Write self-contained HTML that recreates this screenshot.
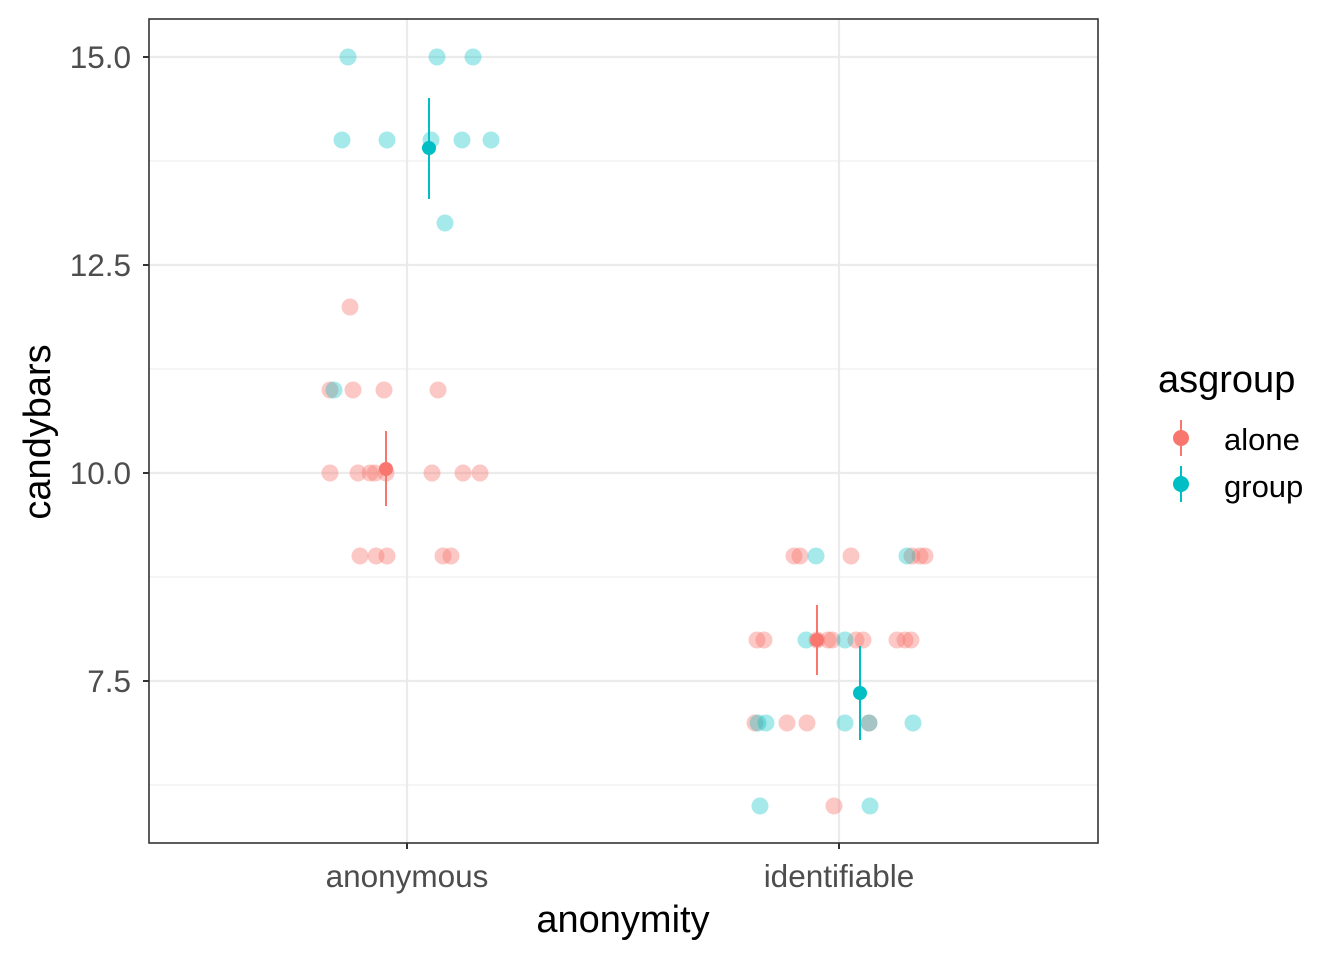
<!DOCTYPE html>
<html><head><meta charset="utf-8"><style>body{margin:0;background:#fff}</style></head><body>
<svg width="1344" height="960" xmlns="http://www.w3.org/2000/svg" font-family="Liberation Sans, sans-serif">
<rect width="1344" height="960" fill="#fff"/>
<g stroke="#ebebeb" stroke-width="1">
<line x1="149" x2="1098" y1="161" y2="161"/><line x1="149" x2="1098" y1="369" y2="369"/>
<line x1="149" x2="1098" y1="577" y2="577"/><line x1="149" x2="1098" y1="785" y2="785"/>
</g>
<g stroke="#ebebeb" stroke-width="2.2">
<line x1="149" x2="1098" y1="57" y2="57"/><line x1="149" x2="1098" y1="265" y2="265"/>
<line x1="149" x2="1098" y1="473" y2="473"/><line x1="149" x2="1098" y1="681" y2="681"/>
<line x1="407" x2="407" y1="19" y2="843"/><line x1="839" x2="839" y1="19" y2="843"/>
</g>
<g fill="#F8766D" fill-opacity="0.4">
<circle cx="350" cy="307" r="8.5"/>
<circle cx="330" cy="390" r="8.5"/><circle cx="353" cy="390" r="8.5"/><circle cx="384" cy="390" r="8.5"/><circle cx="438" cy="390" r="8.5"/>
<circle cx="330" cy="473" r="8.5"/><circle cx="358" cy="473" r="8.5"/><circle cx="370" cy="473" r="8.5"/><circle cx="375" cy="473" r="8.5"/><circle cx="386" cy="473" r="8.5"/><circle cx="432" cy="473" r="8.5"/><circle cx="463" cy="473" r="8.5"/><circle cx="480" cy="473" r="8.5"/>
<circle cx="360" cy="556" r="8.5"/><circle cx="376" cy="556" r="8.5"/><circle cx="387" cy="556" r="8.5"/><circle cx="443" cy="556" r="8.5"/><circle cx="451" cy="556" r="8.5"/>
<circle cx="794" cy="556" r="8.5"/><circle cx="800" cy="556" r="8.5"/><circle cx="851" cy="556" r="8.5"/><circle cx="912" cy="556" r="8.5"/><circle cx="920" cy="556" r="8.5"/><circle cx="925" cy="556" r="8.5"/>
<circle cx="757" cy="640" r="8.5"/><circle cx="764" cy="640" r="8.5"/><circle cx="817" cy="640" r="8.5"/><circle cx="828" cy="640" r="8.5"/><circle cx="832" cy="640" r="8.5"/><circle cx="856" cy="640" r="8.5"/><circle cx="863" cy="640" r="8.5"/><circle cx="897" cy="640" r="8.5"/><circle cx="905" cy="640" r="8.5"/><circle cx="911" cy="640" r="8.5"/>
<circle cx="755" cy="723" r="8.5"/><circle cx="787" cy="723" r="8.5"/><circle cx="807" cy="723" r="8.5"/><circle cx="869" cy="723" r="8.5"/>
<circle cx="834" cy="806" r="8.5"/>
</g>
<g fill="#00BFC4" fill-opacity="0.35">
<circle cx="348" cy="57" r="8.5"/><circle cx="437" cy="57" r="8.5"/><circle cx="473" cy="57" r="8.5"/>
<circle cx="342" cy="140" r="8.5"/><circle cx="387" cy="140" r="8.5"/><circle cx="431" cy="140" r="8.5"/><circle cx="462" cy="140" r="8.5"/><circle cx="491" cy="140" r="8.5"/>
<circle cx="445" cy="223" r="8.5"/><circle cx="334" cy="390" r="8.5"/>
<circle cx="816" cy="556" r="8.5"/><circle cx="907" cy="556" r="8.5"/>
<circle cx="806" cy="640" r="8.5"/><circle cx="845" cy="640" r="8.5"/>
<circle cx="758" cy="723" r="8.5"/><circle cx="766" cy="723" r="8.5"/><circle cx="845" cy="723" r="8.5"/><circle cx="869" cy="723" r="8.5"/><circle cx="913" cy="723" r="8.5"/>
<circle cx="760" cy="806" r="8.5"/><circle cx="870" cy="806" r="8.5"/>
</g>
<g stroke="#F8766D" stroke-width="2" fill="#F8766D">
<line x1="386" x2="386" y1="431" y2="506"/><circle cx="386" cy="469" r="7" stroke="none"/>
<line x1="817" x2="817" y1="605" y2="675"/><circle cx="817" cy="640" r="7" stroke="none"/>
</g>
<g stroke="#00BFC4" stroke-width="2" fill="#00BFC4">
<line x1="429" x2="429" y1="98" y2="199"/><circle cx="429" cy="148" r="7" stroke="none"/>
<line x1="860" x2="860" y1="646" y2="740"/><circle cx="860" cy="693" r="7" stroke="none"/>
</g>
<rect x="149" y="19" width="949" height="824" fill="none" stroke="#333" stroke-width="1.6"/>
<g stroke="#333" stroke-width="2">
<line x1="143" x2="149" y1="57" y2="57"/><line x1="143" x2="149" y1="265" y2="265"/>
<line x1="143" x2="149" y1="473" y2="473"/><line x1="143" x2="149" y1="681" y2="681"/>
<line x1="407" x2="407" y1="843" y2="849"/><line x1="839" x2="839" y1="843" y2="849"/>
</g>
<g font-size="31.5" fill="#4d4d4d" text-anchor="end">
<text x="131" y="68">15.0</text><text x="131" y="276">12.5</text><text x="131" y="484">10.0</text><text x="131" y="692">7.5</text>
</g>
<g font-size="31.5" fill="#4d4d4d" text-anchor="middle">
<text x="407" y="887">anonymous</text><text x="839" y="887">identifiable</text>
</g>
<text x="623" y="932" font-size="38" text-anchor="middle">anonymity</text>
<text transform="translate(50,432) rotate(-90)" font-size="38" text-anchor="middle">candybars</text>
<text x="1158" y="392" font-size="38">asgroup</text>
<g stroke-width="2">
<line x1="1181" x2="1181" y1="420" y2="456" stroke="#F8766D"/><circle cx="1181" cy="438" r="8" fill="#F8766D"/>
<line x1="1181" x2="1181" y1="466" y2="502" stroke="#00BFC4"/><circle cx="1181" cy="484" r="8" fill="#00BFC4"/>
</g>
<text x="1224" y="450" font-size="31">alone</text>
<text x="1224" y="497" font-size="31">group</text>
</svg>
</body></html>
